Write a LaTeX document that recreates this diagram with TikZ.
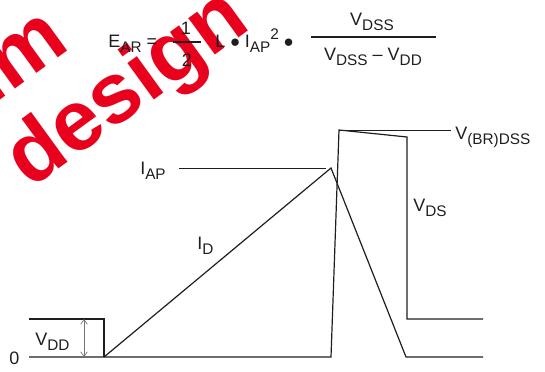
\documentclass[tikz,border=0pt]{standalone}
\usepackage{fontspec}
\setmainfont{Liberation Sans}
\usetikzlibrary{arrows.meta}
\definecolor{wmred}{RGB}{232,0,28}
\definecolor{ink}{RGB}{30,30,30}
\newcommand{\sbx}[1]{\raisebox{-0.3em}{\fontsize{11.5}{11.5}\selectfont #1}}
\newcommand{\spx}[1]{\raisebox{0.42em}{\fontsize{11.5}{11.5}\selectfont #1}}
\begin{document}
\begin{tikzpicture}[x=0.75pt,y=-0.75pt,
  wave/.style={draw=ink,line width=0.9pt,line join=miter},
  lbl/.style={text=ink,inner sep=0pt,font=\fontsize{13.5}{13.5}\selectfont},
  wm/.style={text=wmred,inner sep=0pt,font=\fontsize{64}{64}\selectfont\bfseries,rotate=36}]
\useasboundingbox (0,0) rectangle (545,371);
\begin{scope}
\clip (0,0) rectangle (545,371);
\node[wm,anchor=base west] (wm1) at (30,190) {design};
\node[wm,anchor=base east] (wm2) at (72,48) {im};
\end{scope}
% formula
\node[lbl,anchor=base west] (ear) at (108,47) {E\sbx{AR} =};
\node[lbl,anchor=base] (one) at (186,34) {1};
\node[lbl,anchor=base] (two) at (187,66) {2};
\coordinate (fa) at (173,42); \coordinate (fb) at (201,42);
\draw[ink,line width=0.8pt] (fa) -- (fb);
\node[lbl,anchor=base west] (mid) at (215,47) {L $\bullet$ I\sbx{AP}\spx{2} $\bullet$};
\node[lbl,anchor=base] (num) at (372,25) {V\sbx{DSS}};
\node[lbl,anchor=base] (den) at (373,60) {V\sbx{DSS} -- V\sbx{DD}};
\coordinate (ga) at (311,37); \coordinate (gb) at (436,37);
\draw[ink,line width=0.8pt] (ga) -- (gb);
% waveform coordinates
\coordinate (z0) at (29,357);
\coordinate (vddL) at (29,319);
\coordinate (vddR) at (104,319);
\coordinate (s0) at (104,357);
\coordinate (apex) at (331,168);
\coordinate (foot) at (406,357);
\coordinate (endI) at (483,357);
\coordinate (b0) at (331,357);
\coordinate (btop) at (339,130);
\coordinate (bR) at (407,137);
\coordinate (bL) at (407,319);
\coordinate (endV) at (483,319);
\coordinate (brEnd) at (451,130);
\coordinate (iapL) at (179,168);
\coordinate (iapR) at (326,168);
\coordinate (arT) at (84,319);
\coordinate (arB) at (84,357);
% traces
\draw[wave] (vddL) -- (vddR) -- (s0);
\draw[wave] (z0) -- (b0) -- (btop) -- (bR) -- (bL) -- (endV);
\draw[wave] (s0) -- (apex) -- (foot) -- (endI);
\draw[wave,line width=0.6pt] (btop) -- (brEnd);
\draw[wave,line width=0.6pt] (iapL) -- (iapR);
\draw[draw=black!55,line width=0.5pt,{Straight Barb[length=3.5pt,width=5pt]}-{Straight Barb[length=3.5pt,width=5pt]}] (arT) -- (arB);
% labels
\node[lbl,anchor=base west] (l0) at (9,364) {0};
\node[lbl,anchor=base west] (lvdd) at (35,345) {V\sbx{DD}};
\node[lbl,anchor=base west] (liap) at (140,174) {I\sbx{AP}};
\node[lbl,anchor=base west] (lid) at (197,249) {I\sbx{D}};
\node[lbl,anchor=base west] (lvds) at (413,211) {V\sbx{DS}};
\node[lbl,anchor=base west] (lbr) at (455,139) {V\sbx{(BR)DSS}};
\end{tikzpicture}
\end{document}
